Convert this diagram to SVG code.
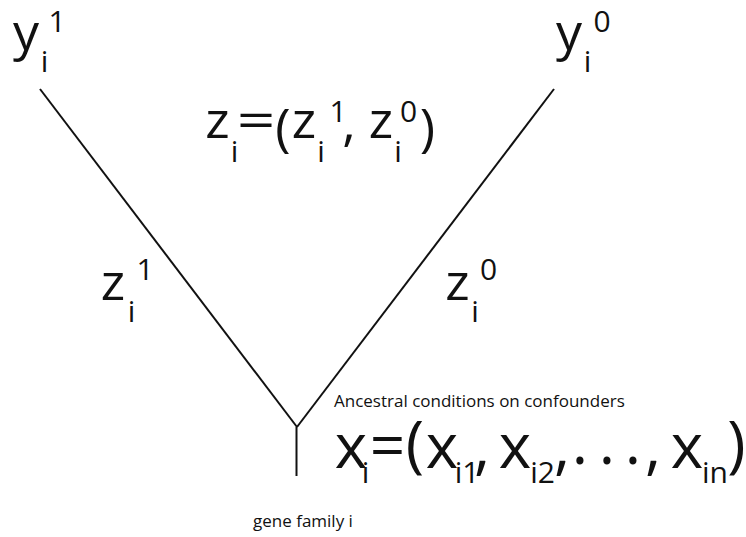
<svg xmlns="http://www.w3.org/2000/svg" width="746" height="537" viewBox="0 0 746 537">
<style>
text{font-family:"Open Sans","Noto Sans",sans-serif;fill:#111;text-anchor:middle}
.b{font-size:52px}
.s{font-size:30px}
.x{font-size:62px}
.sm{font-size:17px;text-anchor:start}
.ln{stroke:#111;stroke-width:2;fill:none}
</style>
<rect width="746" height="537" fill="#fff"/>
<g id="connectors">
<line class="ln" x1="40" y1="89" x2="297" y2="427"/>
<line class="ln" x1="554" y1="89" x2="297" y2="427"/>
<line class="ln" x1="296.5" y1="427" x2="296.5" y2="476"/>
</g>
<g id="y1">
<text class="b" x="26" y="50">y</text><text class="s" x="44.5" y="72">i</text><text class="s" x="57" y="32">1</text>
</g>
<g id="y0">
<text class="b" x="569" y="50">y</text><text class="s" x="587.5" y="72">i</text><text class="s" x="602" y="32">0</text>
</g>
<g id="zdef">
<text class="b" x="217.5" y="138">z</text><text class="s" x="234.5" y="162">i</text>
<text class="b" x="256" y="138" transform="translate(256 0) scale(1.3 1) translate(-256 0)">=</text>
<text class="b" x="283" y="146">(</text>
<text class="b" x="304" y="138">z</text><text class="s" x="321" y="162">i</text><text class="s" x="338" y="122">1</text>
<text class="b" x="349" y="140">,</text>
<text class="b" x="381" y="138">z</text><text class="s" x="398" y="162">i</text><text class="s" x="408.5" y="122">0</text>
<text class="b" x="427.5" y="146">)</text>
</g>
<g id="z1">
<text class="b" x="113" y="300">z</text><text class="s" x="131.5" y="322">i</text><text class="s" x="145" y="280">1</text>
</g>
<g id="z0">
<text class="b" x="457.5" y="300">z</text><text class="s" x="475" y="322">i</text><text class="s" x="488.5" y="280">0</text>
</g>
<g id="xdef">
<text class="sm" x="334" y="407">Ancestral conditions on confounders</text>
<text class="x" x="351" y="468">x</text><text class="s" x="365.5" y="483">i</text>
<text class="x" x="387.5" y="468">=</text>
<text class="x" x="415" y="466">(</text>
<text class="x" x="442" y="468">x</text><text class="s" x="467" y="483">i1</text>
<text class="x" x="482" y="468">,</text>
<text class="x" x="515" y="468">x</text><text class="s" x="542.5" y="483">i2</text>
<text class="x" x="562" y="468">,</text>
<text class="x" x="580" y="464">.</text><text class="x" x="607" y="464">.</text><text class="x" x="633" y="464">.</text>
<text class="x" x="653" y="468">,</text>
<text class="x" x="687" y="468">x</text><text class="s" x="715" y="483">in</text>
<text class="x" x="736.5" y="466">)</text>
</g>
<g id="gene">
<text class="sm" x="253" y="527">gene family i</text>
</g>
</svg>
